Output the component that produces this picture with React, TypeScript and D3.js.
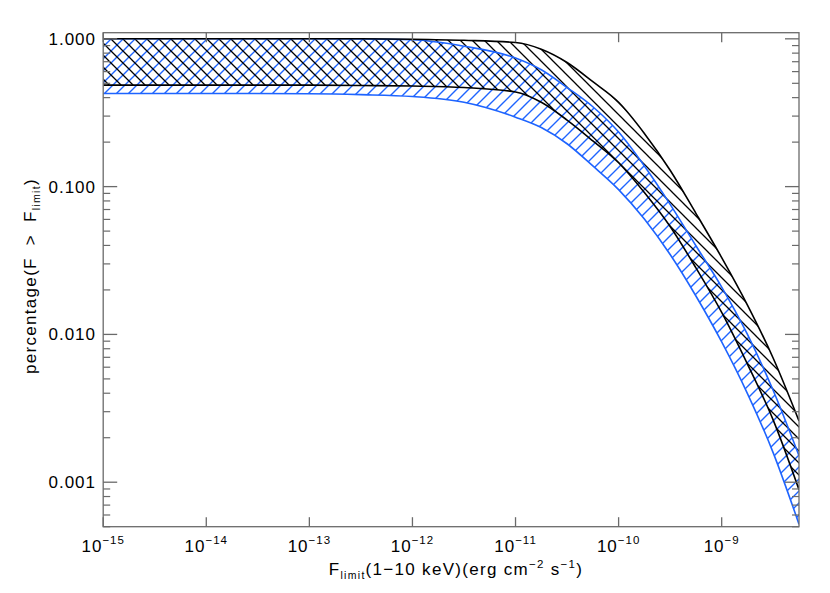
import React from "react";
import * as d3 from "d3";

// log10 of the limiting flux (erg cm^-2 s^-1)
const fluxExp = [-15, -14, -13, -12.5, -12, -11.5, -11, -10.75, -10.5, -10.25, -10, -9.75, -9.5, -9.25, -9, -8.75, -8.5, -8.25];
// black band (upper / lower bound)
const blackUpper = [1, 1, 1, 1, 0.993, 0.977, 0.944, 0.851, 0.692, 0.513, 0.372, 0.229, 0.129, 0.066, 0.0331, 0.0158, 0.0069, 0.0026];
const blackLower = [0.486, 0.486, 0.486, 0.483, 0.479, 0.468, 0.437, 0.372, 0.282, 0.204, 0.145, 0.0912, 0.0537, 0.0282, 0.0141, 0.0063, 0.00263, 0.00089];
// blue band (upper / lower bound)
const blueUpper = [1, 1, 1, 0.998, 0.986, 0.891, 0.741, 0.617, 0.468, 0.347, 0.234, 0.138, 0.0759, 0.0398, 0.0209, 0.01, 0.00417, 0.00151];
const blueLower = [0.427, 0.427, 0.425, 0.419, 0.407, 0.372, 0.295, 0.251, 0.195, 0.138, 0.0955, 0.0603, 0.0347, 0.0182, 0.0089, 0.00398, 0.00158, 0.00052];

const xTickExp = [-15, -14, -13, -12, -11, -10, -9];
const yTickVals = [1, 0.1, 0.01, 0.001];
const yTickLabels = ["1.000", "0.100", "0.010", "0.001"];

const W = 830, H = 593;
const L = 103.2, R = 799, T = 32.7, B = 526.7;
const BLUE = "#1e64ff";
const AXIS = "#6a6a6a";
const FONT = "'Liberation Sans', Arial, Helvetica, sans-serif";

export default function App() {
  const x = d3.scaleLog().domain([1e-15, Math.pow(10, -8.25)]).range([L, R]);
  const y = d3.scaleLog().domain([5e-4, 1.1]).range([B, T]);
  const fx = (e: number) => x(Math.pow(10, e));

  const line = d3.line<[number, number]>().x(d => d[0]).y(d => d[1]).curve(d3.curveMonotoneX);
  const pts = (vals: number[]) => fluxExp.map((e, i) => [fx(e), y(vals[i])] as [number, number]);
  const area = (up: number[], lo: number[]) => {
    const a = pts(up);
    const b = pts(lo);
    const top = line(a)!;
    const bot = line(b.slice().reverse())!;
    return top + "L" + bot.slice(1) + "Z";
  };

  const minorY: number[] = [];
  for (let k = -4; k <= 0; k++) {
    for (let m = 2; m <= 9; m++) {
      const v = m * Math.pow(10, k);
      if (v >= 5e-4 && v <= 1.1) minorY.push(v);
    }
  }

  return (
    <svg width={W} height={H} style={{ position: "absolute", left: 0, top: 0, background: "#fff" }} fontFamily={FONT}>
      <defs>
        <pattern id="hBlue" patternUnits="userSpaceOnUse" width={12} height={12} x={6} y={0}>
          <path d="M-3,3 L3,-3 M0,12 L12,0 M9,15 L15,9" stroke={BLUE} strokeWidth={1.4} />
        </pattern>
        <pattern id="hBlack" patternUnits="userSpaceOnUse" width={12} height={12} x={0} y={0}>
          <path d="M-3,9 L3,15 M0,0 L12,12 M9,-3 L15,3" stroke="#000" strokeWidth={1.3} />
        </pattern>
        <clipPath id="plotClip">
          <rect x={L} y={T} width={R - L} height={B - T} />
        </clipPath>
      </defs>
      <g clipPath="url(#plotClip)">
        <path d={area(blueUpper, blueLower)} fill="url(#hBlue)" />
        <path d={area(blackUpper, blackLower)} fill="url(#hBlack)" />
        <path d={line(pts(blueUpper))!} fill="none" stroke={BLUE} strokeWidth={1.6} />
        <path d={line(pts(blueLower))!} fill="none" stroke={BLUE} strokeWidth={1.6} />
        <path d={line(pts(blackUpper))!} fill="none" stroke="#000" strokeWidth={1.6} />
        <path d={line(pts(blackLower))!} fill="none" stroke="#000" strokeWidth={1.6} />
      </g>
      {/* frame */}
      <rect x={L} y={T} width={R - L} height={B - T} fill="none" stroke={AXIS} strokeWidth={1.3} />
      {/* x ticks */}
      {xTickExp.map(e => (
        <g key={"xt" + e}>
          <line x1={fx(e)} x2={fx(e)} y1={B} y2={B - 9.5} stroke={AXIS} strokeWidth={1.3} />
          <line x1={fx(e)} x2={fx(e)} y1={T} y2={T + 9.5} stroke={AXIS} strokeWidth={1.3} />
          <text x={fx(e)} y={552} textAnchor="middle" fontSize={17} letterSpacing={1} fill="#000">
            10<tspan dy={-8} fontSize={11.5}>{"\u2212" + Math.abs(e)}</tspan>
          </text>
        </g>
      ))}
      {/* y ticks */}
      {yTickVals.map((v, i) => (
        <g key={"yt" + i}>
          <line x1={L} x2={L + 14} y1={y(v)} y2={y(v)} stroke={AXIS} strokeWidth={1.3} />
          <line x1={R} x2={R - 14} y1={y(v)} y2={y(v)} stroke={AXIS} strokeWidth={1.3} />
          <text x={96} y={y(v) + 6} textAnchor="end" fontSize={17} letterSpacing={1} fill="#000">
            {yTickLabels[i]}
          </text>
        </g>
      ))}
      {minorY.map((v, i) => (
        <g key={"ym" + i}>
          <line x1={L} x2={L + 7} y1={y(v)} y2={y(v)} stroke={AXIS} strokeWidth={1.2} />
          <line x1={R} x2={R - 7} y1={y(v)} y2={y(v)} stroke={AXIS} strokeWidth={1.2} />
        </g>
      ))}
      {/* x title */}
      <text x={456} y={575} textAnchor="middle" fontSize={17} letterSpacing={1.3} fill="#000">
        F<tspan dy={4} fontSize={10.5}>limit</tspan>
        <tspan dy={-4}>(1{"\u2212"}10 keV)(erg cm</tspan>
        <tspan dy={-7} fontSize={11.5}>{"\u2212"}2</tspan>
        <tspan dy={7}> s</tspan>
        <tspan dy={-7} fontSize={11.5}>{"\u2212"}1</tspan>
        <tspan dy={7}>)</tspan>
      </text>
      {/* y title */}
      <text transform="translate(36,276) rotate(-90)" textAnchor="middle" fontSize={17} letterSpacing={1.3} fill="#000">
        percentage(F{"\u00a0\u00a0>\u00a0\u00a0"}F<tspan dy={4} fontSize={10.5}>limit</tspan>
        <tspan dy={-4}>)</tspan>
      </text>
    </svg>
  );
}
